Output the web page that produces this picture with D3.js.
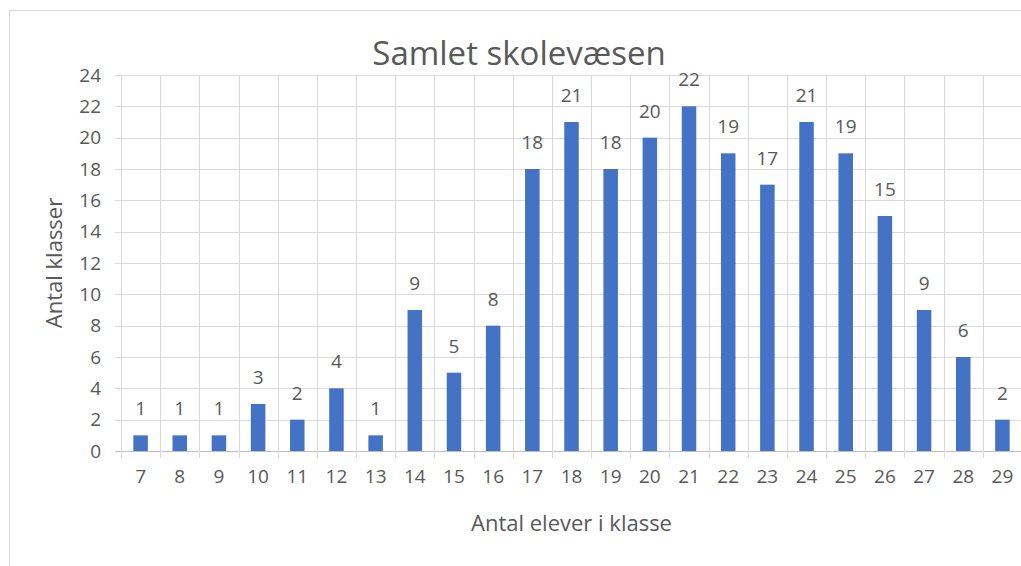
<!DOCTYPE html>
<html>
<head>
<meta charset="utf-8">
<script src="https://cdn.jsdelivr.net/npm/d3@7"></script>
<style>
  body { margin: 0; background: #fff; }
  svg text { font-family: "Open Sans", sans-serif; fill: #595959; }
</style>
</head>
<body>
<script>
// antal elever i klassen og hvor mange klasser der er af hver størrelse
var elever = ["7","8","9","10","11","12","13","14","15","16","17","18","19","20","21","22","23","24","25","26","27","28","29"];
var klasser = [1,1,1,3,2,4,1,9,5,8,18,21,18,20,22,19,17,21,19,15,9,6,2];
var yTicks = [0,2,4,6,8,10,12,14,16,18,20,22,24];

var W = 1021, H = 566;
var pLeft = 121, pRight = 1022, pTop = 75, pBottom = 451;
var font = "'Open Sans', sans-serif";

var svg = d3.select("body").append("svg")
    .attr("width", W)
    .attr("height", H);

// ramme om diagrammet
svg.append("rect")
    .attr("x", 9.5).attr("y", 10.5)
    .attr("width", 1030).attr("height", 570)
    .attr("fill", "none")
    .attr("stroke", "#d9d9d9");

var x = d3.scaleBand()
    .domain(elever)
    .range([pLeft, pRight])
    .paddingInner(0).paddingOuter(0);

var y = d3.scaleLinear()
    .domain([0, 24])
    .range([pBottom, pTop]);

// vandrette gitterlinjer
svg.append("g")
  .selectAll("line")
  .data(yTicks)
  .join("line")
    .attr("x1", pLeft - 6).attr("x2", pRight)
    .attr("y1", d => Math.round(y(d)) + 0.5)
    .attr("y2", d => Math.round(y(d)) + 0.5)
    .attr("stroke", d => d == 0 ? "#bfbfbf" : "#d9d9d9");

// lodrette gitterlinjer
var grenser = elever.map(d => x(d)).concat([pRight]);
svg.append("g")
  .selectAll("line")
  .data(grenser)
  .join("line")
    .attr("x1", d => Math.round(d) + 0.5).attr("x2", d => Math.round(d) + 0.5)
    .attr("y1", pTop).attr("y2", pBottom + 7)
    .attr("stroke", "#d9d9d9");

// y-akse
var yAxis = svg.append("g")
    .attr("transform", "translate(" + (pLeft - 6) + ",0)")
    .call(d3.axisLeft(y).tickValues(yTicks).tickSize(0).tickPadding(14));
yAxis.select(".domain").remove();
yAxis.selectAll("text")
    .attr("font-size", 19)
    .attr("fill", "#595959")
    .style("font-family", font);

// x-akse
var xAxis = svg.append("g")
    .attr("transform", "translate(0," + pBottom + ")")
    .call(d3.axisBottom(x).tickSize(0).tickPadding(19));
xAxis.select(".domain").remove();
xAxis.selectAll("text")
    .attr("font-size", 19)
    .attr("fill", "#595959")
    .style("font-family", font);

// søjler
var bw = x.bandwidth() / 2.7;
svg.append("g")
  .selectAll("rect")
  .data(klasser)
  .join("rect")
    .attr("x", (d, i) => x(elever[i]) + (x.bandwidth() - bw) / 2)
    .attr("y", d => y(d))
    .attr("width", bw)
    .attr("height", d => y(0) - y(d))
    .attr("fill", "#4472c4");

// dataetiketter
svg.append("g")
  .selectAll("text")
  .data(klasser)
  .join("text")
    .attr("x", (d, i) => x(elever[i]) + x.bandwidth() / 2)
    .attr("y", d => y(d) - 20)
    .attr("text-anchor", "middle")
    .attr("font-size", 19)
    .text(d => d);

// titler
svg.append("text")
    .attr("x", 519).attr("y", 65)
    .attr("text-anchor", "middle")
    .attr("font-size", 33)
    .text("Samlet skolevæsen");

svg.append("text")
    .attr("x", (pLeft + pRight) / 2).attr("y", 531)
    .attr("text-anchor", "middle")
    .attr("font-size", 22)
    .text("Antal elever i klasse");

svg.append("text")
    .attr("transform", "translate(62," + (pTop + pBottom) / 2 + ") rotate(-90)")
    .attr("text-anchor", "middle")
    .attr("font-size", 22)
    .text("Antal klasser");
</script>
</body>
</html>
